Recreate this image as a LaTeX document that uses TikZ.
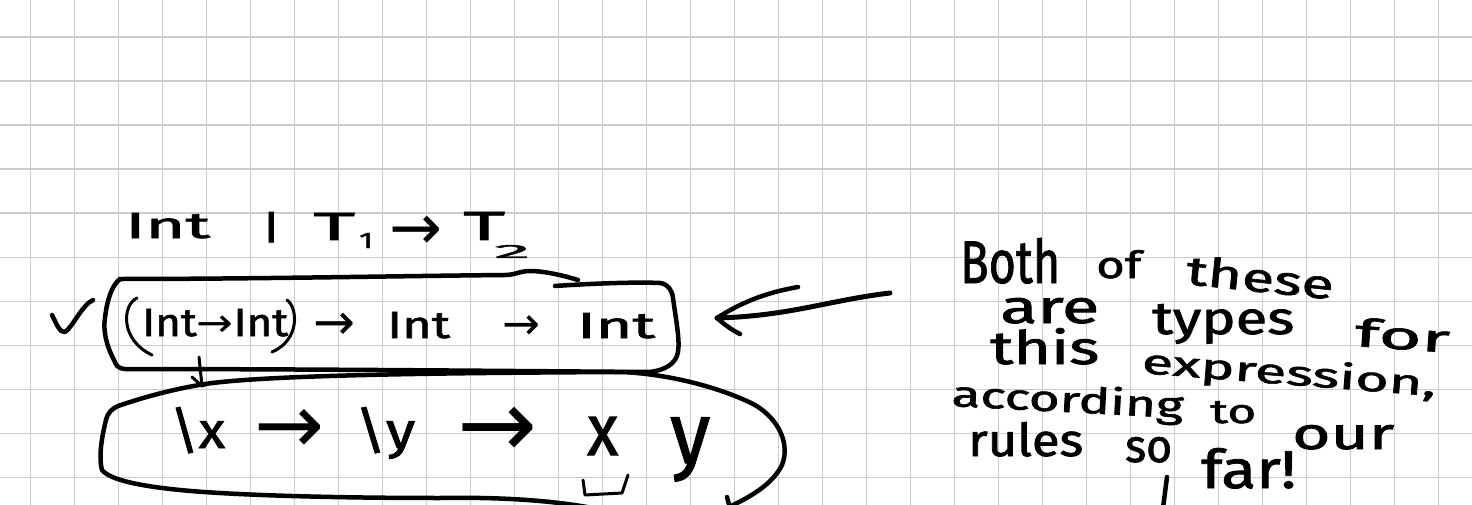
\documentclass[tikz,border=0pt]{standalone}
\usepackage{fontspec}
\setmainfont{Fira Sans}[FakeBold=1.5]
\newfontfamily\hand{Fira Sans}[FakeBold=1.5]
\newfontfamily\arr{DejaVu Sans}
\usetikzlibrary{arrows.meta}
\definecolor{gridgray}{RGB}{204,204,204}
\newcommand\fw[3]{\resizebox{#1pt}{#2pt}{\hand #3}}
\newcommand\ftw[3]{\resizebox*{#1pt}{#2pt}{\hand #3}}
\newcommand\ar[1]{\resizebox{#1pt}{!}{\arr →}}
\begin{document}
\begin{tikzpicture}[x=1pt,y=-1pt,
  ink/.style={line width=4.5pt, line cap=round, line join=round},
  fine ink/.style={line width=3pt, line cap=round, line join=round},
  word/.style={inner sep=0pt, anchor=base west},
  glyph/.style={inner sep=0pt}]
\useasboundingbox (0,0) rectangle (1472,505);
\fill[white] (0,0) rectangle (1472,505);
\foreach \i in {0,...,33} \draw[gridgray, line width=1.2pt] ({30.7+44*\i},0) -- ({30.7+44*\i},505);
\foreach \j in {0,...,10} \draw[gridgray, line width=1.6pt] (0,{37.3+44*\j}) -- (1472,{37.3+44*\j});

% top line
\node[word] (tInt) at (125,238) {\fw{85}{25}{Int}};
\node[word] (tbar) at (260,239) {\fw{22}{27}{|}};
\node[word] (tT1) at (313,240) {\fw{42}{27}{T}};
\node[word] (tsub1) at (359,248) {\fw{14}{15}{1}};
\node[glyph] (tarr) at (416,233) {\ar{53}};
\node[word] (tT2) at (463,240) {\fw{42}{28}{T}};
\node[word] (tsub2) at (494,258) {\fw{36}{13}{2}};

% box 1 text
\node[word] (inner) at (142,336) {\fw{146}{27}{Int{\arr →}Int}};
\node[glyph] (a1) at (334,326) {\ar{42}};
\node[word] (int1) at (387,338) {\fw{63}{26}{Int}};
\node[glyph] (a2) at (521,328) {\ar{38}};
\node[word] (int2) at (577,338) {\fw{78}{25}{Int}};

% box 2 text
\node[word] (lx) at (170,448) {\fw{55}{41}{\textbackslash x}};
\node[glyph] (a3) at (290,431) {\ar{70}};
\node[word] (ly) at (355,448) {\fw{60}{41}{\textbackslash y}};
\node[glyph] (a4) at (498,432) {\ar{80}};
\node[word] (vx) at (587,455) {\fw{31}{38}{x}};
\node[word] (vy) at (670,463) {\ftw{40}{64}{y}};

% right text
\node[word] (w1) at (960,283) {\fw{100}{45}{Both}};
\node[word] (w2) at (1096,278) {\fw{45}{28}{of}};
\node[word, rotate=-6] (w3) at (1185,284) {\fw{148}{30}{these}};
\node[word] (w4) at (1000,323) {\fw{99}{25}{are}};
\node[word] (w5) at (1152,334) {\fw{142}{30}{types}};
\node[word, rotate=-4] (w6) at (1354,346) {\fw{95}{29}{for}};
\node[word] (w7) at (990,364) {\fw{109}{36}{this}};
\node[word, rotate=-4.5] (w8) at (1141,373) {\fw{295}{27}{expression,}};
\node[word, rotate=-3] (w9) at (951,406) {\fw{232}{28}{according}};
\node[word] (w10) at (1210,423) {\fw{46}{22}{to}};
\node[word] (w11) at (1292,449) {\fw{102}{24}{our}};
\node[word] (w12) at (968,456) {\fw{115}{34}{rules}};
\node[word] (w13) at (1125,462) {\fw{47}{25}{so}};
\node[word] (w14) at (1201,488) {\fw{95}{40}{far!}};

% check mark
\draw[ink] (52,315) .. controls (57,325) and (60,333) .. (65,332) .. controls (72,328) and (82,305) .. (93,300);

% box 1
\draw[ink] (120,279) .. controls (250,279) and (400,276) .. (505,275) .. controls (515,275) and (520,271) .. (530,271) .. controls (545,271) and (565,276) .. (578,280);
\draw[ink] (555,286) .. controls (600,283) and (640,282) .. (660,283) .. controls (668,284) and (672,290) .. (673,298) .. controls (676,320) and (680,340) .. (678,352) .. controls (676,364) and (665,370) .. (650,372) .. controls (500,371) and (300,369) .. (125,369) .. controls (116,368) and (116,364) .. (114,360) .. controls (106,345) and (103,330) .. (105,318) .. controls (107,300) and (112,285) .. (120,279);

% inner parentheses
\draw[fine ink] (137,298) .. controls (122,305) and (120,340) .. (152,355);
\draw[fine ink] (287,300) .. controls (298,308) and (300,340) .. (272,352);

% box 2
\draw[ink] (612,512) .. controls (560,500) and (500,497) .. (440,498) .. controls (330,498) and (230,495) .. (180,490) .. controls (140,486) and (110,480) .. (102,470) .. controls (98,455) and (103,432) .. (106,420) .. controls (108,412) and (112,409) .. (118,406) .. controls (150,395) and (180,388) .. (205,384) .. controls (260,376) and (400,373) .. (623,372) .. controls (680,375) and (730,392) .. (755,405) .. controls (780,420) and (790,445) .. (782,465) .. controls (772,485) and (750,497) .. (727,508);
\draw[ink] (727,497) -- (730,508);

% underline mark below x
\draw[fine ink] (583,480) -- (585,495) -- (622,493) -- (628,475);

% small arrow from inner type to box 2
\coordinate (sa1) at (199,357);
\coordinate (sa2) at (202,386);
\draw[fine ink] (sa1) -- (sa2);
\draw[fine ink] (192,377) -- (sa2) -- (213,382);

% big arrow
\coordinate (btail) at (890,293);
\coordinate (btip) at (717,318);
\draw[ink, line width=5pt] (btail) .. controls (830,300) and (790,316) .. (btip);
\draw[ink] (btip) .. controls (745,300) and (770,292) .. (798,287);
\draw[ink] (btip) .. controls (725,325) and (732,330) .. (740,334);

% bottom stroke
\draw[ink] (1167,477) -- (1163,508);
\end{tikzpicture}
\end{document}
